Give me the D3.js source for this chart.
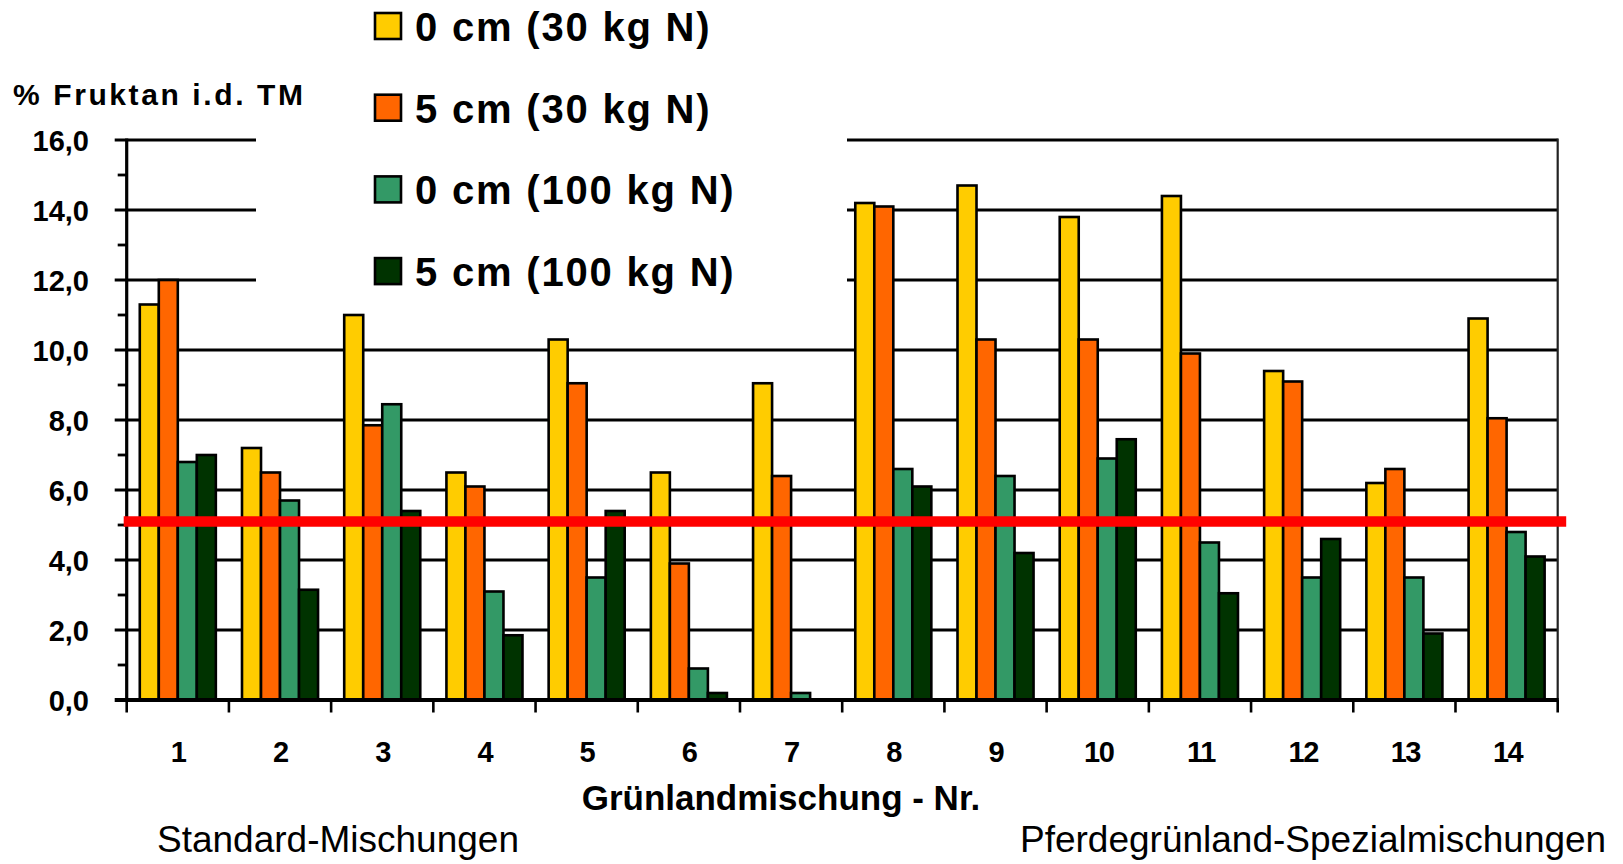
<!DOCTYPE html>
<html>
<head>
<meta charset="utf-8">
<script src="https://cdn.jsdelivr.net/npm/d3@7"></script>
<style>
  html, body { margin: 0; padding: 0; background: #fff; }
  svg { display: block; }
  text { font-family: "Liberation Sans", Arial, sans-serif; fill: #000; }
</style>
</head>
<body>
<svg id="chart" width="1623" height="864"></svg>
<script>
// ---- data ----
const categories = ["1","2","3","4","5","6","7","8","9","10","11","12","13","14"];
const seriesNames = ["0 cm (30 kg N)", "5 cm (30 kg N)", "0 cm (100 kg N)", "5 cm (100 kg N)"];
const seriesColors = ["#FFCC00", "#FF6600", "#339966", "#003300"];
const values0cm30 = [11.3, 7.2, 11.0, 6.5, 10.3, 6.5, 9.05, 14.2, 14.7, 13.8, 14.4, 9.4, 6.2, 10.9];
const values5cm30 = [12.0, 6.5, 7.85, 6.1, 9.05, 3.9, 6.4, 14.1, 10.3, 10.3, 9.9, 9.1, 6.6, 8.05];
const values0cm100 = [6.8, 5.7, 8.45, 3.1, 3.5, 0.9, 0.2, 6.6, 6.4, 6.9, 4.5, 3.5, 3.5, 4.8];
const values5cm100 = [7.0, 3.15, 5.4, 1.85, 5.4, 0.2, 0, 6.1, 4.2, 7.45, 3.05, 4.6, 1.9, 4.1];
const thresholdValue = 5.1;
const yTickValues = [0, 2, 4, 6, 8, 10, 12, 14, 16];
const yMinorTickValues = [1, 3, 5, 7, 9, 11, 13, 15];
const yTitle = "% Fruktan i.d. TM";
const xTitle = "Grünlandmischung - Nr.";
const groupLabelLeft = "Standard-Mischungen";
const groupLabelRight = "Pferdegrünland-Spezialmischungen";

const seriesValues = [values0cm30, values5cm30, values0cm100, values5cm100];

// ---- layout ----
const svg = d3.select("#chart");
const plotL = 126.7, plotR = 1557.7, plotT = 140, plotB = 700;

const x = d3.scaleBand().domain(categories).range([plotL, plotR]).paddingInner(0).paddingOuter(0);
const bw = x.bandwidth();
const xs = d3.scaleBand().domain(seriesNames).range([bw * 0.128, bw * 0.872]).padding(0);
const y = d3.scaleLinear().domain([0, 16]).range([plotB, plotT]);

const fmt = v => d3.format(".1f")(v).replace(".", ",");

// gridlines (major, including small tick stub to the left)
svg.append("g").selectAll("line").data(yTickValues.filter(v => v > 0)).join("line")
  .attr("x1", plotL - 12).attr("x2", plotR)
  .attr("y1", d => y(d)).attr("y2", d => y(d))
  .attr("stroke", "#000").attr("stroke-width", 2.8);

// legend background (hides gridlines)
svg.append("rect").attr("x", 256).attr("y", 0).attr("width", 847 - 256).attr("height", 298)
  .attr("fill", "#fff");

// bars
const rows = [];
categories.forEach((c, i) => {
  seriesNames.forEach((s, j) => rows.push({cat: c, ser: s, j: j, v: seriesValues[j][i]}));
});
svg.append("g").selectAll("rect").data(rows.filter(d => d.v > 0)).join("rect")
  .attr("x", d => x(d.cat) + xs(d.ser))
  .attr("y", d => y(d.v))
  .attr("width", xs.bandwidth())
  .attr("height", d => y(0) - y(d.v))
  .attr("fill", d => seriesColors[d.j])
  .attr("stroke", "#000").attr("stroke-width", 2.6);

// left axis line
svg.append("line").attr("x1", plotL).attr("x2", plotL).attr("y1", plotT - 1.5).attr("y2", plotB)
  .attr("stroke", "#000").attr("stroke-width", 3.2);
// minor ticks
svg.append("g").selectAll("line").data(yMinorTickValues).join("line")
  .attr("x1", plotL - 9).attr("x2", plotL)
  .attr("y1", d => y(d)).attr("y2", d => y(d))
  .attr("stroke", "#000").attr("stroke-width", 2.8);
// right border
svg.append("line").attr("x1", plotR).attr("x2", plotR).attr("y1", plotT - 1.4).attr("y2", plotB)
  .attr("stroke", "#222").attr("stroke-width", 2.2);

// y tick labels
svg.append("g").selectAll("text").data(yTickValues).join("text")
  .attr("x", 89).attr("y", d => y(d) + 11)
  .attr("text-anchor", "end")
  .style("font-size", "29px").style("font-weight", "bold")
  .text(d => fmt(d));

// bottom axis
svg.append("line").attr("x1", plotL - 12).attr("x2", plotR + 1).attr("y1", plotB).attr("y2", plotB)
  .attr("stroke", "#000").attr("stroke-width", 3.8);
const boundaries = categories.map(c => x(c)).concat([plotR]);
svg.append("g").selectAll("line").data(boundaries).join("line")
  .attr("x1", d => d).attr("x2", d => d)
  .attr("y1", plotB).attr("y2", plotB + 12.5)
  .attr("stroke", "#000").attr("stroke-width", 2.6);

// category labels
svg.append("g").selectAll("text").data(categories).join("text")
  .attr("x", d => x(d) + bw / 2 + 1).attr("y", 762)
  .attr("text-anchor", "middle")
  .style("font-size", "29px").style("font-weight", "bold")
  .style("letter-spacing", d => d.length > 1 ? "-1.5px" : "0px")
  .text(d => d);

// threshold line
svg.append("line")
  .attr("x1", plotL - 3).attr("x2", plotR + 8.5)
  .attr("y1", y(thresholdValue)).attr("y2", y(thresholdValue))
  .attr("stroke", "#FF0000").attr("stroke-width", 10.5);

// titles
svg.append("text").attr("x", 13).attr("y", 105)
  .style("font-size", "30px").style("font-weight", "bold").style("letter-spacing", "2.6px")
  .text(yTitle);
svg.append("text").attr("x", 781).attr("y", 810).attr("text-anchor", "middle")
  .style("font-size", "35px").style("font-weight", "bold")
  .text(xTitle);
svg.append("text").attr("x", 157).attr("y", 852)
  .style("font-size", "37px")
  .text(groupLabelLeft);
svg.append("text").attr("x", 1020).attr("y", 852)
  .style("font-size", "37px")
  .text(groupLabelRight);

// legend
const lg = svg.append("g").selectAll("g").data(seriesNames).join("g")
  .attr("transform", (d, i) => `translate(375, ${26 + i * 81.7})`);
lg.append("rect").attr("x", 0).attr("y", -13).attr("width", 26).attr("height", 26)
  .attr("fill", (d, i) => seriesColors[i]).attr("stroke", "#000").attr("stroke-width", 2.6);
lg.append("text").attr("x", 40).attr("y", 15)
  .style("font-size", "40px").style("font-weight", "bold").style("letter-spacing", "1.8px")
  .text(d => d);
</script>
</body>
</html>
